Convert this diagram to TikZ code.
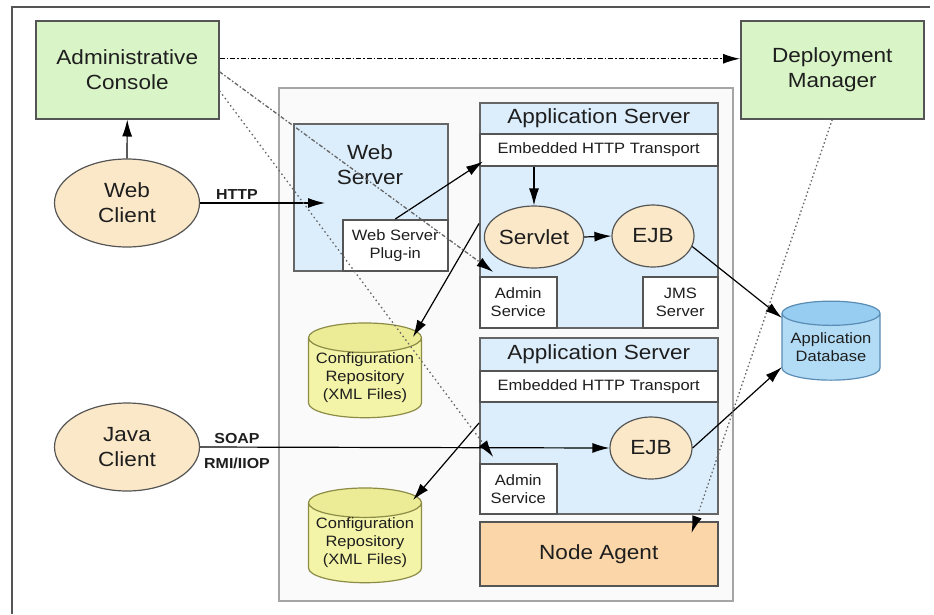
\documentclass[tikz,border=0pt]{standalone}
\usepackage{fontspec}
\setmainfont[FakeStretch=1.1]{Liberation Sans}
\usetikzlibrary{shapes.geometric,arrows.meta}

\definecolor{consolegreen}{RGB}{217,244,199}
\definecolor{peach}{RGB}{251,232,200}
\definecolor{serverblue}{RGB}{220,238,252}
\definecolor{agentorange}{RGB}{251,214,168}
\definecolor{repoyellow}{RGB}{244,244,168}
\definecolor{repotop}{RGB}{236,236,150}
\definecolor{repoline}{RGB}{140,140,70}
\definecolor{dbblue}{RGB}{178,220,246}
\definecolor{dbtop}{RGB}{150,205,240}
\definecolor{dbline}{RGB}{90,140,180}
\definecolor{boxline}{RGB}{85,85,85}
\definecolor{cellline}{RGB}{165,165,165}
\definecolor{txt}{RGB}{30,30,30}

\newcommand\bigfont{\fontsize{20.5}{25}\selectfont}
\newcommand\midfont{\fontsize{15}{18}\selectfont}
\newcommand\lblfont{\fontsize{14.5}{19}\selectfont\bfseries}

\tikzset{
  box/.style={draw=boxline, line width=1.5pt, inner sep=0pt, align=center,
    text=txt, anchor=north west},
  greenbox/.style={box, fill=consolegreen, font=\bigfont,
    minimum width=183pt, minimum height=98pt},
  bluebox/.style={box, fill=serverblue, draw=boxline!90},
  whitebox/.style={box, fill=white, font=\midfont},
  client/.style={ellipse, draw=boxline, line width=1.2pt, fill=peach,
    inner sep=0pt, align=center, text=txt, font=\bigfont,
    minimum width=145pt, minimum height=88pt},
  bean/.style={client, minimum width=82pt, minimum height=62pt},
  repo/.style={cylinder, shape border rotate=90, aspect=0.3, draw=repoline,
    line width=1.2pt, cylinder uses custom fill, cylinder body fill=repoyellow,
    cylinder end fill=repotop, inner sep=0pt, align=center, text=txt,
    font=\midfont, minimum width=113pt, minimum height=85pt},
  lbl/.style={text=txt, font=\lblfont, inner sep=0pt},
  arr/.style={-{Latex[length=17pt,width=10pt]}, line width=1.2pt},
  dotarr/.style={-{Latex[length=17pt,width=10pt,color=black]}, draw=black!60,
    line width=1.3pt},
}

\begin{document}
\begin{tikzpicture}[x=1pt,y=-1pt]
\useasboundingbox (0,0) rectangle (934,614);
\draw[boxline, line width=1.5pt] (12,614) -- (12,7) -- (930,7);

% outside the cell
\node[greenbox] (adminconsole) at (35,20) {Administrative\\Console};
\node[greenbox] (deploymgr) at (740,20) {Deployment\\Manager};
\node[client] (webclient) at (127,203) {Web\\Client};
\node[client] (javaclient) at (127,447) {Java\\Client};
\node[repo, draw=dbline, cylinder body fill=dbblue, cylinder end fill=dbtop,
  minimum width=98pt, minimum height=79pt] (appdb) at (831,347)
  {Application\\Database};

% the cell
\node[box, draw=cellline, fill=black!2, minimum width=454pt,
  minimum height=513pt] (cell) at (278,87) {};

\node[bluebox, minimum width=154pt, minimum height=147pt] (webserver) at (293,123) {};
\node[text=txt, font=\bigfont, align=center] (webserverlbl) at (370,165) {Web\\Server};
\node[whitebox, minimum width=105pt, minimum height=51pt] (plugin) at (342,219)
  {Web Server\\Plug-in};

% application server 1
\node[bluebox, line width=2pt, minimum width=238pt, minimum height=225pt] (appsrvA) at (479,102) {};
\node[bluebox, font=\bigfont, minimum width=238pt, minimum height=31pt] (titleA) at (479,102)
  {Application Server};
\node[whitebox, minimum width=238pt, minimum height=32pt] (httpA) at (479,133)
  {Embedded HTTP Transport};
\node[bean] (servlet) at (534,237) {Servlet};
\node[bean] (ejbA) at (653,236) {EJB};
\node[whitebox, minimum width=77pt, minimum height=51pt] (adminA) at (479,276) {Admin\\Service};
\node[whitebox, minimum width=75pt, minimum height=51pt] (jms) at (642,276) {JMS\\Server};

% application server 2
\node[bluebox, line width=2pt, minimum width=238pt, minimum height=176pt] (appsrvB) at (479,337) {};
\node[bluebox, font=\bigfont, minimum width=238pt, minimum height=33pt] (titleB) at (479,337)
  {Application Server};
\node[whitebox, minimum width=238pt, minimum height=31pt] (httpB) at (479,370)
  {Embedded HTTP Transport};
\node[bean] (ejbB) at (651,448) {EJB};
\node[whitebox, minimum width=77pt, minimum height=50pt] (adminB) at (479,463) {Admin\\Service};

\node[box, fill=agentorange, font=\bigfont, minimum width=238pt, minimum height=64pt]
  (nodeagent) at (479,521) {Node Agent};

\node[repo] (repoA) at (365,378) {Configuration\\Repository\\(XML Files)};
\node[repo] (repoB) at (365,543) {Configuration\\Repository\\(XML Files)};

% labels
\node[lbl] (httplbl) at (237,195) {HTTP};
\node[lbl] (soaplbl) at (237,438) {SOAP};
\node[lbl] (rmilbl) at (237,463) {RMI/IIOP};
\coordinate (httpend) at (325,203);

% connectors
\draw[arr] (webclient.north) -- (adminconsole.south);
\draw[arr] (webclient.east) -- (httpend);
\draw[arr] (plugin.north) -- ([xshift=4pt,yshift=5pt]httpA.south west);
\draw[arr] (servlet.north |- httpA.south) -- (servlet.north);
\draw[arr] (servlet.east) -- (ejbA.west);
\draw[arr] ([yshift=-8pt]appsrvA.west) -- ([xshift=48pt,yshift=41pt]repoA.center);
\draw[arr] (ejbA.-15) -- ([xshift=-49pt,yshift=29pt]appdb.center);
\draw[arr] (javaclient.east) -- (ejbB.west);
\draw[arr] (ejbB.east) -- ([xshift=-49pt,yshift=-20pt]appdb.center);
\draw[arr] ([yshift=3pt]appsrvB.west) -- ([xshift=48pt,yshift=43pt]repoB.center);

\draw[arr, dash pattern=on 5pt off 2pt on 1.5pt off 2pt]
  ([yshift=11pt]adminconsole.east) -- ([yshift=11pt]deploymgr.west);
\draw[dotarr, dash pattern=on 4pt off 2pt on 1.5pt off 2pt]
  ([yshift=-2pt]adminconsole.east) -- ([xshift=-25pt,yshift=4pt]adminA.north);
\draw[dotarr, dash pattern=on 1.5pt off 3pt]
  ([yshift=-21pt]adminconsole.east) -- ([xshift=-25pt,yshift=6pt]adminB.north);
\draw[dotarr, dash pattern=on 1.5pt off 2.5pt]
  (deploymgr.south) -- ([xshift=-27pt,yshift=-12pt]nodeagent.north east);
\end{tikzpicture}
\end{document}
